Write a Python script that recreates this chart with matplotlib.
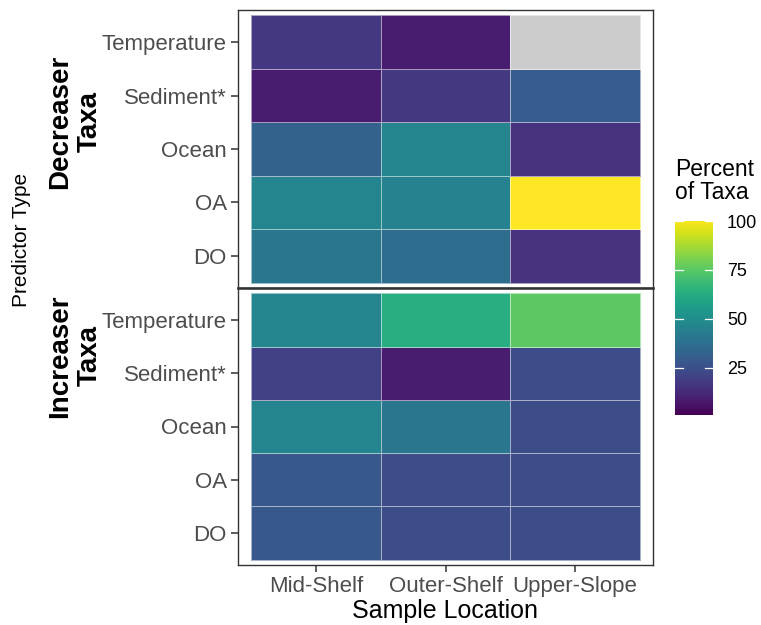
import numpy as np
import matplotlib
matplotlib.use('Agg')
import matplotlib.pyplot as plt
from matplotlib.colors import Normalize

plt.rcParams['font.family'] = ['Liberation Sans', 'DejaVu Sans']

# 데이터 : 위치별, 예측변수별 Taxa 비율 (%)
locations = ['Mid-Shelf', 'Outer-Shelf', 'Upper-Slope']
predictors = ['DO', 'OA', 'Ocean', 'Sediment*', 'Temperature']   # 아래 -> 위 순서

# rows = predictors, cols = locations
decreaser = [[40, 36, 15],        # DO
             [46, 45, 100],       # OA
             [32, 46, 15],        # Ocean
             [9, 17, 30],         # Sediment*
             [17, 9, np.nan]]     # Temperature
increaser = [[28, 24, 24],
             [28, 24, 24],
             [46, 40, 24],
             [20, 9, 24],
             [46, 63, 75]]

groups = ['Decreaser\nTaxa', 'Increaser\nTaxa']
cbar_ticks = [25, 50, 75, 100]
vmin, vmax = 1, 100

W, H = 761, 625
fig = plt.figure(figsize=(W / 100, H / 100), dpi=100)

def px_axes(left, top, right, bottom):
    return fig.add_axes([left / W, 1 - bottom / H, (right - left) / W, (bottom - top) / H])

cmap = plt.get_cmap('viridis').copy()
cmap.set_bad('#cccccc')
norm = Normalize(vmin=vmin, vmax=vmax)

panels = [(10, 288), (288, 565)]
grey30 = '#4d4d4d'
xe = np.arange(len(locations) + 1) + 0.5
ye = np.arange(len(predictors) + 1) + 0.5

for (top, bottom), vals in zip(panels, [decreaser, increaser]):
    ax = px_axes(238, top, 653, bottom)
    z = np.ma.masked_invalid(np.array(vals, dtype=float))
    ax.pcolormesh(xe, ye, z, cmap=cmap, norm=norm,
                  edgecolors=(1, 1, 1, 0.55), linewidth=0.6)
    ax.set_xlim(0.4, 3.6)
    ax.set_ylim(0.4, 5.6)
    ax.set_yticks(np.arange(1, len(predictors) + 1))
    ax.set_yticklabels(predictors)
    ax.tick_params(axis='y', labelsize=16, colors='#333333', labelcolor=grey30,
                   length=5, width=1.1, pad=3)
    if bottom == 565:
        ax.set_xticks(np.arange(1, len(locations) + 1))
        ax.set_xticklabels(locations)
        ax.tick_params(axis='x', labelsize=16, colors='#333333', labelcolor=grey30,
                       length=5, width=1.1, pad=3)
    else:
        ax.set_xticks([])
    for s in ax.spines.values():
        s.set_color('#333333')
        s.set_linewidth(1.0)

# 패널 구분선
fig.add_artist(plt.Line2D([238 / W, 653 / W], [1 - 288 / H] * 2, color='#333333', lw=1.8))

# strip 라벨
fig.text(75 / W, 1 - 122 / H, groups[0], rotation=90, ha='center', va='center',
         fontsize=20, fontweight='bold', linespacing=1.15, color='black')
fig.text(75 / W, 1 - 356 / H, groups[1], rotation=90, ha='center', va='center',
         fontsize=20, fontweight='bold', linespacing=1.15, color='black')

fig.text(22 / W, 1 - 240 / H, 'Predictor Type', rotation=90, ha='center', va='center',
         fontsize=15, color='black')
fig.text(445 / W, 1 - 611 / H, 'Sample Location', ha='center', va='center',
         fontsize=18, color='black')

# 컬러바
cax = px_axes(675, 221, 713, 415)
grad = np.linspace(vmin, vmax, 256).reshape(-1, 1)
cax.imshow(grad, aspect='auto', cmap=cmap, norm=norm, origin='lower',
           extent=[0, 1, vmin, vmax])
cax.set_xlim(0, 1)
cax.set_ylim(vmin, vmax)
cax.set_xticks([])
cax.yaxis.tick_right()
cax.set_yticks(cbar_ticks)
cax.set_yticklabels([str(t) for t in cbar_ticks])
cax.tick_params(axis='y', length=0, labelsize=13, labelcolor='black', pad=10)
for t in cbar_ticks:
    cax.plot([0, 0.2], [t, t], color='white', lw=0.9)
    cax.plot([0.8, 1], [t, t], color='white', lw=0.9)
for s in cax.spines.values():
    s.set_visible(False)

fig.text(675 / W, 1 - 158 / H, 'Percent\nof Taxa', ha='left', va='top',
         fontsize=16.5, color='black', linespacing=1.0)

fig.savefig('out.png', dpi=100, facecolor='white')
